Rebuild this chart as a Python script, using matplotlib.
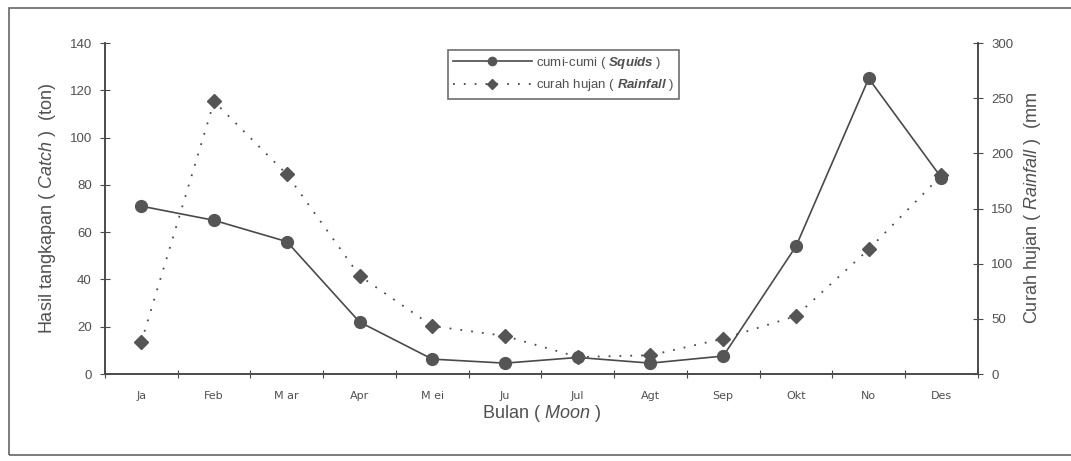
import matplotlib
matplotlib.use("Agg")
import matplotlib.pyplot as plt
from matplotlib.patches import Rectangle

plt.rcParams['font.family'] = ['Liberation Sans', 'DejaVu Sans']
plt.rcParams['mathtext.fontset'] = 'custom'
plt.rcParams['mathtext.rm'] = 'Liberation Sans'
plt.rcParams['mathtext.it'] = 'Liberation Sans:italic'
plt.rcParams['mathtext.bf'] = 'Liberation Sans:bold:italic'

months = ["Ja", "Feb", "M ar", "Apr", "M ei", "Ju", "Jul", "Agt", "Sep", "Okt", "No", "Des"]
squids = [71, 65, 56, 22, 6.3, 4.6, 7, 4.6, 7.6, 54, 125, 83]
rainfall = [29, 247, 181, 89, 43.5, 34.5, 15.4, 17, 32, 52.6, 113, 180]

grey = "#4a4a4a"
txt = "#505050"

fig = plt.figure(figsize=(10.71, 4.61), dpi=100)
ax = fig.add_axes([0.098, 0.1887, 0.815, 0.718])
ax2 = ax.twinx()

x = list(range(len(months)))
l1, = ax.plot(x, squids, color=grey, lw=1.2, marker="o", ms=8.5,
              markerfacecolor="#555555", markeredgecolor="#555555",
              label=r"cumi-cumi ( $\mathbf{Squids}$ )")
l2, = ax2.plot(x, rainfall, color=grey, lw=1.3, linestyle=(0, (1, 5)),
               marker="D", ms=7, markerfacecolor="#555555", markeredgecolor="#555555",
               label=r"curah hujan ( $\mathbf{Rainfall}$ )")

ax.set_xlim(-0.5, 11.5)
ax.set_ylim(0, 140)
ax2.set_ylim(0, 300)
ax.set_yticks(range(0, 141, 20))
ax2.set_yticks(range(0, 301, 50))

ax.set_xticks([i - 0.5 for i in range(13)])
ax.set_xticklabels([])
ax.set_xticks(x, minor=True)
ax.set_xticklabels(months, minor=True, fontfamily="DejaVu Sans", fontsize=8, color=txt)
ax.tick_params(axis="x", which="minor", length=0, pad=12)
ax.tick_params(axis="x", which="major", direction="inout", length=6, color=grey)
ax.tick_params(axis="y", direction="inout", length=7, color=grey, labelsize=9.5, labelcolor=txt, pad=6)
ax2.tick_params(axis="y", direction="inout", length=7, color=grey, labelsize=9.5, labelcolor=txt, pad=6)

for a in (ax, ax2):
    a.spines["top"].set_visible(False)
    for s in ("left", "right", "bottom"):
        a.spines[s].set_color(grey)
        a.spines[s].set_linewidth(1.2)

ax.set_xlabel(r"Bulan ( $\mathit{Moon}$ )", fontsize=13, color=txt, labelpad=2)
ax.set_ylabel(r"Hasil tangkapan ( $\mathit{Catch}$ )  (ton)", fontsize=13, color=txt, labelpad=8)
ax2.set_ylabel(r"Curah hujan ( $\mathit{Rainfall}$ )  (mm", fontsize=13, color=txt, labelpad=6)

leg = ax.legend(handles=[l1, l2], loc="upper left", bbox_to_anchor=(0.385, 1.0),
                frameon=True, fancybox=False, handlelength=6, fontsize=9.5,
                markerscale=0.7, borderpad=0.4, labelspacing=0.5, handletextpad=0.3)
leg.get_frame().set_edgecolor(grey)
leg.get_frame().set_linewidth(1.2)
for t in leg.get_texts():
    t.set_color(txt)

fig.patches.append(Rectangle((0.008, 0.012), 1.1, 0.97, transform=fig.transFigure,
                             fill=False, edgecolor="#666666", lw=1.2))

fig.savefig("out.png", dpi=100)
